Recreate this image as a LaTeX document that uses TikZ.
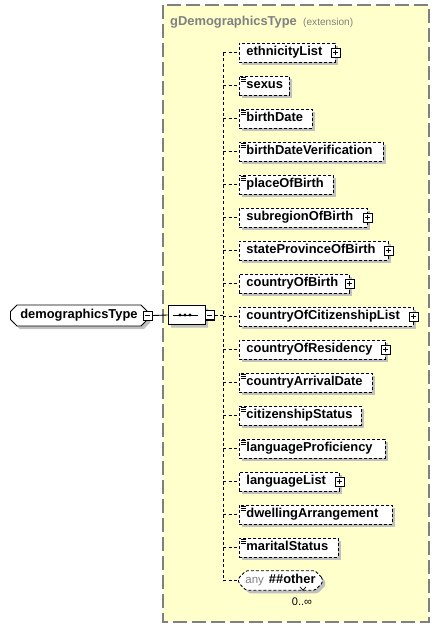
\documentclass[tikz,border=0pt]{standalone}
\usepackage{fontspec}
\setmainfont{Liberation Sans}
\definecolor{xsYellow}{HTML}{FFFFCC}
\definecolor{xsGray}{HTML}{808080}
\definecolor{xsShadow}{HTML}{C0C0C0}
\usetikzlibrary{positioning,shapes.misc,shadows}

\tikzset{
  elfont/.style={font=\fontsize{12.9}{14}\selectfont\bfseries},
  boxshadow/.style={general shadow={fill=xsShadow, shadow xshift=3pt, shadow yshift=-3pt}},
  elem/.style={elfont, draw, dash pattern=on 3pt off 2pt, line width=0.9pt, fill=white, anchor=west,
    minimum height=19pt, inner xsep=7pt, inner ysep=0pt, text height=9.5pt, text depth=3pt,
    align=left, boxshadow},
  conn/.style={draw=black, dash pattern=on 3pt off 2.5pt, line width=0.8pt},
  iconbox/.style={draw, solid, fill=white, minimum size=9pt, inner sep=0pt, line width=0.9pt,
    general shadow={fill=black, shadow xshift=1pt, shadow yshift=-1pt}},
  plusbox/.style={iconbox, path picture={
    \draw[line width=0.9pt] ([xshift=2pt]path picture bounding box.west) -- ([xshift=-2pt]path picture bounding box.east)
      ([yshift=-2pt]path picture bounding box.north) -- ([yshift=2pt]path picture bounding box.south);}},
  minusbox/.style={iconbox, path picture={
    \draw[line width=0.9pt] ([xshift=2pt]path picture bounding box.west) -- ([xshift=-2pt]path picture bounding box.east);}}
}

\begin{document}
\begin{tikzpicture}[x=1pt, y=-1pt]
\useasboundingbox (0,0) rectangle (441,627);
% group of the base type (extension)
\draw[xsGray, fill=xsYellow, line width=1.2pt, dash pattern=on 14pt off 5pt] (163,5) rectangle (429,622);
\node[elfont, xsGray, anchor=base west, inner sep=0pt] (grp) at (170,25) {gDemographicsType};
\node[xsGray, font=\fontsize{10.1}{12}\selectfont, anchor=base west, inner sep=0pt] (ext) at ([xshift=6pt]grp.base east) {(extension)};
% the complex type and its sequence
\node[elfont, draw, line width=0.9pt, fill=white, chamfered rectangle, chamfered rectangle xsep=3pt,
  anchor=west, minimum width=137pt, minimum height=21pt, inner sep=0pt, boxshadow] (root) at (10,315.5) {demographicsType};
\node[minusbox] (rootminus) at (root.east) {};
\node[draw, line width=0.9pt, fill=white, chamfered rectangle, chamfered rectangle xsep=6pt,
  minimum width=37pt, minimum height=19pt, inner sep=0pt, boxshadow] (seq) at (186.5,315) {};
\draw[line width=0.9pt] ([xshift=5pt]seq.west) -- ([xshift=-7pt]seq.east);
\foreach \dx in {-6.5,-1.5,3.5}
  \fill ([xshift=\dx pt]seq.center) circle (1.6);
\node[minusbox, anchor=west] (seqminus) at ([xshift=-0.5pt]seq.east) {};
\draw[line width=0.9pt] (rootminus.east) -- (seq.west);
\coordinate (fork) at (223,315);
\draw[conn] (seqminus.east) -- (seqminus.east -| fork);
% child elements, p = has children, s = simple content
\foreach \elname/\xr/\kind [count=\i from 0] in {
  ethnicityList/335/p, sexus/289/s, birthDate/312/s, birthDateVerification/383/s,
  placeOfBirth/333/s, subregionOfBirth/367/p, stateProvinceOfBirth/388/p,
  countryOfBirth/349/p, countryOfCitizenshipList/413/p, countryOfResidency/385/p,
  countryArrivalDate/372/s, citizenshipStatus/361/s, languageProficiency/385/s,
  languageList/339/p, dwellingArrangement/392/s, maritalStatus/338/s}{
  \pgfmathsetmacro\yy{52.5+33*\i}
  \pgfmathsetmacro\tw{\xr-239-14}
  \node[elem, text width=\tw pt] (\elname) at (239,\yy) {\elname};
  \draw[conn] (\elname.west -| fork) -- (\elname.west);
  \if\kind p
    \node[plusbox] at (\elname.east) {};
  \else
    \foreach \dy in {1.7,3.5,5.3}
      \draw[line width=0.6pt] ([shift={(1.5,\dy)}]\elname.north west) -- ++(5,0);
  \fi
}
% wildcard
\node[draw, dash pattern=on 3pt off 2pt, line width=0.9pt, fill=white, chamfered rectangle,
  chamfered rectangle xsep=4pt, rounded corners=1.5pt, anchor=west, minimum width=84pt,
  minimum height=19pt, inner sep=0pt, text height=9.5pt, text depth=3pt, boxshadow] (other) at (238,580.5)
  {{\color{xsGray}\fontsize{11.5}{12}\selectfont any}\hspace{5pt}{\fontsize{12.9}{14}\selectfont\bfseries\#\#other}};
\draw[line width=0.7pt] ([xshift=-19pt]other.south east) -- ++(3,3.5) -- ++(3,-3.5);
\node[font=\fontsize{11}{12}\selectfont, anchor=north, inner sep=0pt] (othermult) at (302,598) {0..∞};
\draw[conn] (ethnicityList.west -| fork) -- (other.west -| fork);
\draw[conn] (other.west -| fork) -- (other.west);
\end{tikzpicture}
\end{document}
